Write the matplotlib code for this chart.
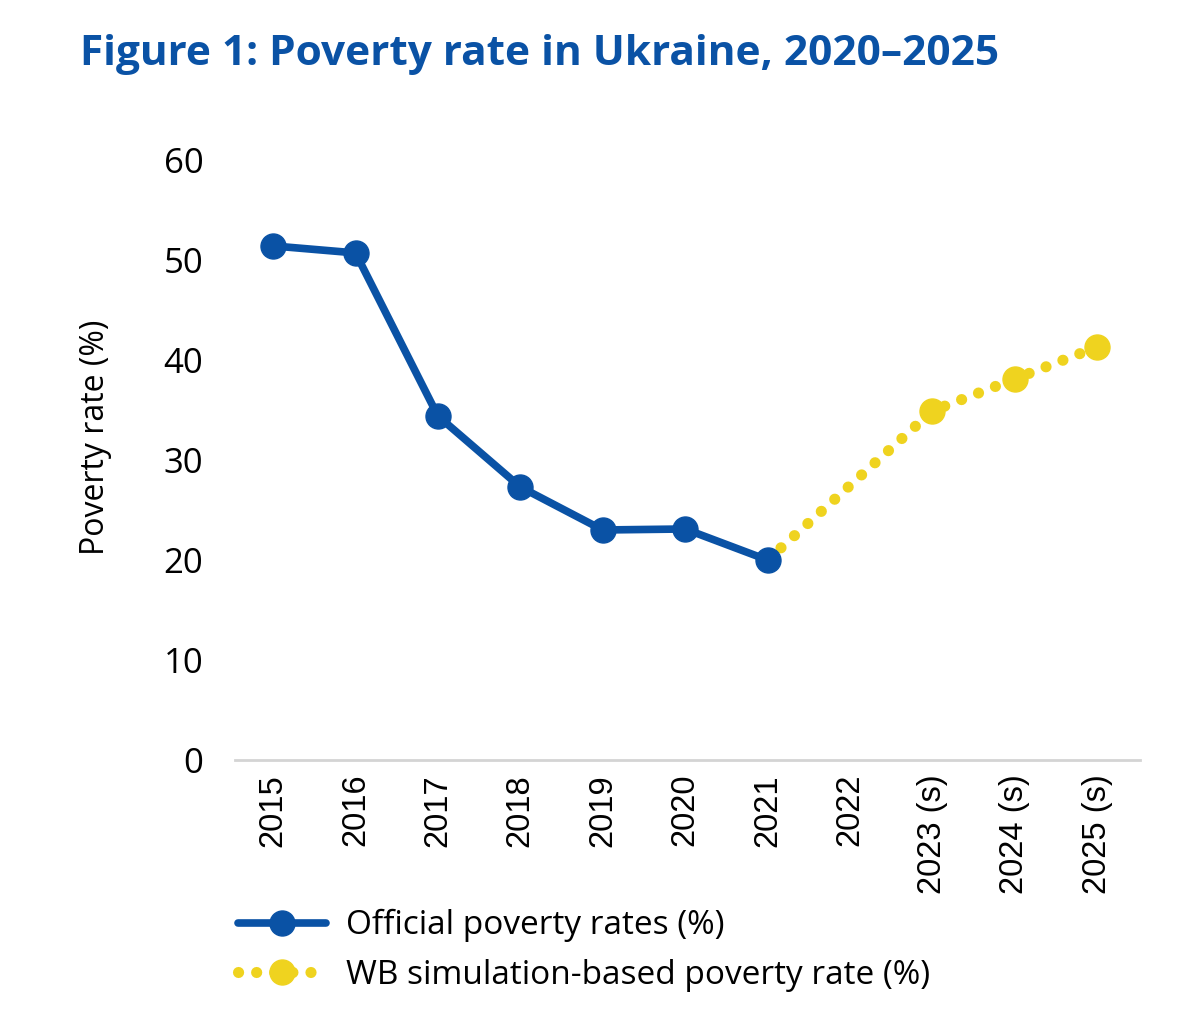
import matplotlib
matplotlib.use("Agg")
import matplotlib.pyplot as plt
import numpy as np

years = ["2015", "2016", "2017", "2018", "2019", "2020", "2021", "2022",
         "2023 (s)", "2024 (s)", "2025 (s)"]
official = [51.4, 50.7, 34.4, 27.3, 23.0, 23.1, 20.0]
sim_years = ["2021", "2023 (s)", "2024 (s)", "2025 (s)"]
sim_vals = [20.0, 34.9, 38.1, 41.3]

blue = "#0A52A5"
yellow = "#EFD31F"

plt.rcParams['font.family'] = ['Open Sans', 'DejaVu Sans']

fig = plt.figure(figsize=(12, 10.25), dpi=100)
ax = fig.add_axes([0.196, 0.2585, 0.754, 0.5855])

x = np.arange(len(years))
xs = [years.index(y) for y in sim_years]

ax.plot(xs, sim_vals, color=yellow, lw=8, linestyle=(0, (0.01, 1.62)),
        dash_capstyle='round', marker='o', markersize=18, markevery=[1, 2, 3],
        label="WB simulation-based poverty rate (%)", zorder=2)
ax.plot(x[:len(official)], official, color=blue, lw=5.5, marker='o',
        markersize=18, solid_capstyle='round',
        label="Official poverty rates (%)", zorder=3)

ax.set_xlim(-0.46, 10.52)
ax.set_ylim(0, 60)
ax.set_yticks(range(0, 61, 10))
ax.set_xticks(x)
ax.set_xticklabels(years, rotation=90, fontsize=23.5, family='Liberation Sans')
ax.tick_params(axis='x', length=0, pad=10)
ax.tick_params(axis='y', length=0, labelsize=25, pad=23)

for s in ['top', 'right', 'left']:
    ax.spines[s].set_visible(False)
ax.spines['bottom'].set_color('#d4d4d4')
ax.spines['bottom'].set_linewidth(2)

ax.set_ylabel("Poverty rate (%)", fontsize=23)
ax.yaxis.set_label_coords(-0.136, 0.538)

h, l = ax.get_legend_handles_labels()
fig.legend([h[1], h[0]], [l[1], l[0]], loc='upper left',
           bbox_to_anchor=(0.187, 0.126), frameon=False, fontsize=24,
           handlelength=2.65, handletextpad=0.6, labelspacing=0.5,
           borderaxespad=0)

fig.text(0.067, 0.947, "Figure 1: Poverty rate in Ukraine, 2020–2025",
         fontsize=30.5, fontweight='bold', color=blue, ha='left', va='center')

fig.savefig("out.png", dpi=100)
